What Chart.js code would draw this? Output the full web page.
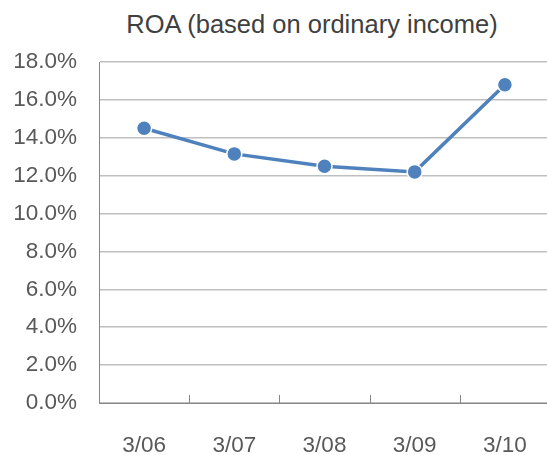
<!DOCTYPE html>
<html>
<head>
<meta charset="utf-8">
<script src="https://cdn.jsdelivr.net/npm/chart.js@4.4.1/dist/chart.umd.min.js"></script>
<style>
  html, body { margin: 0; padding: 0; background: #fff; overflow: hidden; }
  body { width: 547px; height: 455px; position: relative; }
  #title {
    position: absolute; top: 9px; left: 0; width: 624px; line-height: 30px;
    text-align: center; font-family: "Liberation Sans", Arial, sans-serif;
    font-size: 25.5px; color: #404040; white-space: nowrap;
  }
  #wrap { position: absolute; left: 0; top: 1px; width: 559px; height: 454px; }
</style>
</head>
<body>
<div id="title">ROA (based on ordinary income)</div>
<div id="wrap"><canvas id="roaChart"></canvas></div>
<script>
const categories = ['3/06', '3/07', '3/08', '3/09', '3/10'];
const roaValues = [14.5, 13.15, 12.5, 12.2, 16.8];
const yMin = 0;
const yMax = 18;
const yStep = 2;

const blue = '#4f81bd';
const textGray = '#595959';
const axisGray = '#868686';
const font = { family: '"Liberation Sans", Arial, sans-serif', size: 22.5 };

// short tick marks between categories, pointing up into the plot
const innerTicks = {
  id: 'innerTicks',
  beforeDatasetsDraw(chart) {
    const x = chart.scales.x;
    const c = chart.ctx;
    c.save();
    c.strokeStyle = axisGray;
    c.lineWidth = 1;
    c.beginPath();
    for (let i = 0; i < categories.length - 1; i++) {
      const px = Math.round((x.getPixelForValue(i) + x.getPixelForValue(i + 1)) / 2) + 0.5;
      c.moveTo(px, x.top);
      c.lineTo(px, x.top - 8);
    }
    c.stroke();
    c.restore();
  }
};

const ctx = document.getElementById('roaChart').getContext('2d');
new Chart(ctx, {
  type: 'line',
  data: {
    labels: categories,
    datasets: [
      {
        label: 'ROA',
        data: roaValues,
        borderColor: blue,
        backgroundColor: blue,
        borderWidth: 3.5,
        pointRadius: 7.5,
        pointBackgroundColor: blue,
        pointBorderColor: '#ffffff',
        pointBorderWidth: 1.5,
        tension: 0,
        fill: false,
        clip: false
      }
    ]
  },
  options: {
    responsive: true,
    maintainAspectRatio: false,
    animation: false,
    layout: { padding: { top: 61, right: 1, left: 0, bottom: 0 } },
    plugins: {
      legend: { display: false },
      tooltip: { enabled: false },
      title: { display: false }
    },
    scales: {
      x: {
        offset: true,
        grid: { display: true, drawOnChartArea: false, drawTicks: false, offset: true },
        border: { color: axisGray, width: 1 },
        ticks: { color: textGray, font: font, padding: 29, maxRotation: 0 },
        afterFit: s => { s.height = 52; }
      },
      y: {
        min: yMin,
        max: yMax,
        ticks: {
          stepSize: yStep,
          color: textGray,
          font: font,
          padding: 22,
          callback: v => v.toFixed(1) + '%'
        },
        grid: { color: '#bfbfbf', lineWidth: 1.5, drawTicks: false },
        border: { color: axisGray, width: 1 },
        afterFit: s => { s.width = 99; }
      }
    }
  },
  plugins: [innerTicks]
});
</script>
</body>
</html>
